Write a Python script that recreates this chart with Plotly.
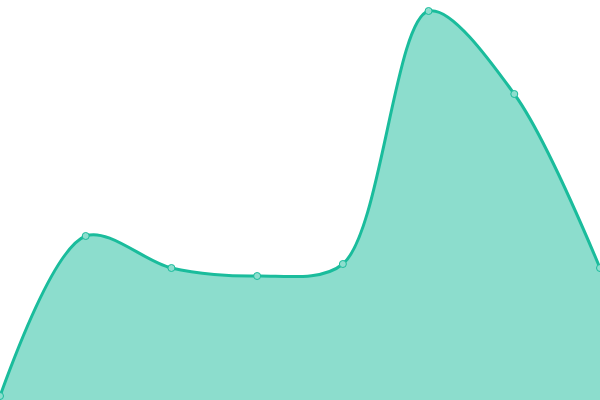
import plotly.graph_objects as go

# points along the curve, left to right
x_vals = [0, 1, 2, 3, 4, 5, 6, 7]
y_vals = [4, 164, 132, 124, 136, 389, 306, 132]

line_color = "#1abc9c"

fig = go.Figure()
fig.add_trace(go.Scatter(
    x=x_vals, y=y_vals,
    mode="lines+markers",
    line=dict(color=line_color, width=3, shape="spline", smoothing=0.9),
    fill="tozeroy",
    fillcolor="rgba(26,188,156,0.5)",
    marker=dict(size=7, color="#8ddece", line=dict(color=line_color, width=1)),
    cliponaxis=False,
    hoverinfo="skip",
))

fig.update_xaxes(visible=False, range=[0, 7])
fig.update_yaxes(visible=False, range=[0, 400])
fig.update_layout(
    width=600, height=400,
    margin=dict(l=0, r=0, t=0, b=0),
    paper_bgcolor="white", plot_bgcolor="white",
    showlegend=False,
)

# drop the default page margin so the chart sits flush in the window
fig.write_html("out.html", config={"displayModeBar": False},
               post_script="document.body.style.margin='0';")
